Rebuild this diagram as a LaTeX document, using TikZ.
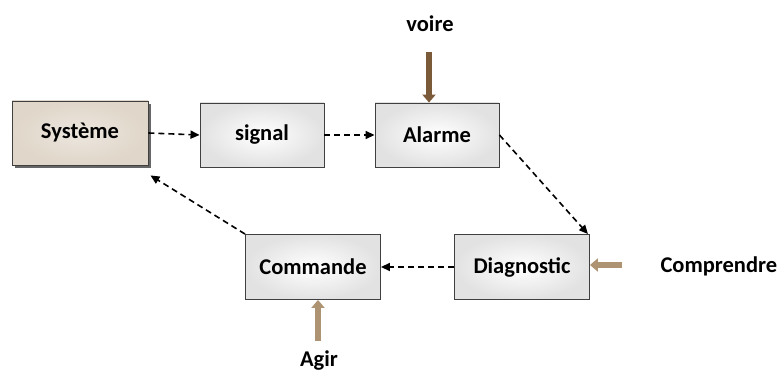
\documentclass[tikz,border=0pt]{standalone}
\usepackage{fontspec}
\setmainfont{Carlito}
\usetikzlibrary{arrows.meta,shadows,positioning}
\definecolor{boxgray}{HTML}{E2E2E2}
\definecolor{sysfill}{HTML}{E0D6C9}
\definecolor{tan}{HTML}{AE9373}
\definecolor{darkbrown}{HTML}{7A5A38}
\tikzset{
  blk/.style={draw=black!75, line width=0.9pt, minimum width=124pt, minimum height=64pt,
    inner color=white, outer color=boxgray, font=\bfseries\fontsize{22.5}{26}\selectfont},
  flow/.style={dashed, dash pattern=on 6pt off 4pt, line width=1.6pt, -{Triangle[length=9pt,width=8pt]}},
  inarrow/.style={line width=6pt, draw=tan, -{Triangle[length=8pt,width=13pt]}},
  lbl/.style={font=\bfseries\fontsize{22.5}{26}\selectfont}
}
\begin{document}
\begin{tikzpicture}[x=1pt,y=-1pt]
\useasboundingbox (0,0) rectangle (780,374);
\node[blk, minimum width=136pt, inner color=sysfill!60, outer color=sysfill, drop shadow={shadow xshift=3pt, shadow yshift=-3pt, fill=black!60, opacity=1}] (sys) at (80,133) {Système};
\node[blk] (sig) at (262,135) {signal};
\node[blk] (ala) at (437,135) {Alarme};
\node[blk, minimum width=135pt, minimum height=65pt] (dia) at (522,267) {Diagnostic};
\node[blk, minimum width=135pt, minimum height=65pt] (com) at (313,267) {Commande};
\node[lbl] (voire) at (430,24) {voire};
\node[lbl, anchor=west] (comp) at (657,266) {Comprendre};
\node[lbl] (agir) at (319,361) {Agir};
\draw[flow] (sys.east) -- (sig.west);
\draw[flow] (sig.east) -- (ala.west);
\draw[flow] (ala.east) -- ([xshift=-2pt]dia.north east);
\draw[flow] (dia.west) -- (com.east);
\draw[flow] (com.north west) -- ([xshift=2pt,yshift=-10pt]sys.south east);
\coordinate (vtop) at (429,52);
\draw[inarrow, draw=darkbrown] (vtop) -- (ala.north -| vtop);
\coordinate (cstart) at (622,265);
\draw[inarrow] (cstart) -- (dia.east |- cstart);
\coordinate (astart) at (318,341);
\draw[inarrow] (astart) -- (com.south -| astart);
\end{tikzpicture}
\end{document}
